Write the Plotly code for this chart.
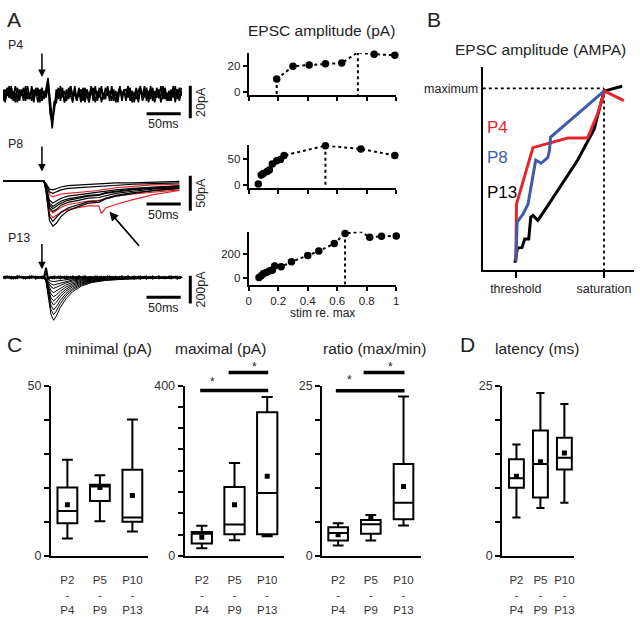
import plotly.graph_objects as go

W, H = 640, 617

# ======================= DATA =======================
# ---- Panel A: example sweeps (time in ms, current in pA) ----
SAMPLE_MS = 3  # spacing of the hand-read noisy sweeps
p4_sweep_a = [2, -3, 4, -2, 5, -4, 1, -5, 3, -1,
              4, -4, 2, -3, 5, -2, 3, -5, 1, 4,
              -3, 3, 10, -8, -21, -8, -2, 4, -4, 2,
              -5, 3, -2, 5, -3, 1, -4, 4, -2, 3,
              -5, 2, -1, 5, -4, 3, -2, 4, -5, 1,
              -3, 5, -2, 3, -4, 2, -5, 4, -1, 3,
              -4, 5, -2, 2, -5, 3, -3, 4, -1, 5,
              -4, 2, -3, 4, -5, 1, -2, 5, -3, 3,
              -4, 2, -1, 4, -5, 3, -2, 4]
p4_sweep_b = [-4, 3, -1, 5, -3, 2, -5, 4, -2, 3,
              -4, 1, 5, -3, 2, -5, 4, -1, 3, -4,
              2, -2, 6, -12, -17, -4, -5, 3, -1, 4,
              -5, 2, -3, 5, -1, 3, -4, 2, -5, 4,
              -2, 3, -3, 1, 4, -5, 2, -2, 5, -3,
              4, -1, 2, -4, 3, -5, 1, 4, -2, 3,
              -3, 5, -4, 2, -1, 4, -5, 3, -2, 1,
              4, -3, 5, -4, 2, -2, 3, -5, 1, 4,
              -3, 2, -4, 5, -1, 3, -4, 2]
p4_sweep_c = [3, -5, 1, -2, 4, -3, 5, -1, -4, 2,
              -2, 5, -3, 1, -4, 3, -1, 4, -5, 2,
              1, -1, 8, -5, -15, -10, 3, -3, 5, -2,
              2, -4, 4, -1, -5, 5, -3, 1, 3, -4,
              4, -1, -5, 3, -2, 5, -4, 1, 2, -3,
              -1, 3, -4, 5, -2, 1, -3, 5, -4, 2,
              3, -2, 4, -5, 1, -3, 2, 5, -4, -1,
              2, -5, 3, 1, -4, 4, -2, -1, 5, -3,
              1, -4, 3, -2, 5, -3, 4, -1]

p8_t = [0, 60, 63, 68, 73, 78, 85, 95, 110, 125, 140, 144, 150, 165, 190, 220, 258]
p8_black_sweeps = [
    [0, 0, -3, -11, -12, -10, -8, -6, -5, -4, -4, -3, -3, -2, -2, -1, 0],
    [0, 0, -4, -15, -17, -15, -12, -10, -9, -8, -7, -7, -6, -5, -4, -3, -2],
    [0, 0, -7, -27, -31, -28, -24, -21, -19, -17, -16, -15, -14, -12, -10, -8, -6],
    [0, 0, -8, -31, -36, -33, -28, -25, -22, -20, -19, -18, -16, -14, -11, -9, -7],
    [0, 0, -9, -34, -39, -36, -31, -27, -24, -21, -20, -19, -17, -15, -12, -10, -8],
    [0, 0, -10, -38, -43, -40, -34, -30, -27, -24, -23, -22, -20, -17, -14, -11, -9],
    [0, 0, -13, -50, -57, -52, -44, -38, -33, -29, -28, -27, -24, -20, -16, -13, -10],
    [0, 0, -15, -56, -64, -60, -50, -42, -36, -31, -30, -28, -25, -21, -17, -13, -10],
]
p8_red_sweeps = [
    [0, 0, -5, -19, -22, -20, -18, -17, -16, -14, -13, -12, -11, -9, -7, -5, -4],
    [0, 0, -10, -40, -45, -42, -37, -33, -30, -28, -27, -26, -24, -21, -18, -15, -12],
    [0, 0, -12, -46, -52, -49, -44, -40, -37, -35, -35, -46, -38, -33, -26, -19, -13],
]

p13_t = [0, 60, 63, 66, 70, 74, 78, 84, 92, 102, 115, 130, 150, 180, 220, 262]
p13_sweeps = [
    [0, 0, -3, -14, -26, -30, -27, -21, -15, -10, -6, -4, -2, -1, -1, 0],
    [0, 0, -6, -25, -47, -55, -50, -39, -28, -18, -11, -7, -4, -2, -1, 0],
    [0, 0, -8, -36, -68, -80, -72, -56, -40, -26, -16, -10, -6, -3, -2, 0],
    [0, 0, -11, -50, -94, -110, -99, -77, -55, -36, -22, -13, -8, -4, -2, 0],
    [0, 0, -14, -63, -119, -140, -126, -98, -70, -46, -28, -17, -10, -6, -3, 0],
    [0, 0, -17, -77, -145, -170, -153, -119, -85, -56, -34, -20, -12, -7, -3, 0],
    [0, 0, -20, -90, -170, -200, -180, -140, -100, -66, -40, -24, -14, -8, -4, 0],
    [0, 0, -24, -106, -200, -235, -212, -165, -118, -78, -47, -28, -16, -9, -5, 0],
    [0, 0, -27, -122, -230, -270, -243, -189, -135, -89, -54, -32, -19, -11, -5, 0],
    [0, 0, -31, -140, -264, -310, -279, -217, -155, -102, -62, -37, -22, -12, -6, 0],
]
p13_base_a = [4, -6, 8, -3, 6, -9, 2, -5, 7, -2,
              5, -8, 3, -6, 9, -1, 6, -4, 1, -7,
              5, 70, -10, 4, -6, 8, -3, 6, -9, 2,
              -5, 7, -2, 5, -8, 3, -6, 9, -1, 6,
              -4, 1, -7, 5, -3, 8, -6, 2, -9, 4,
              -2, 7, -5, 3, -8, 6, -1, 4, -7, 2,
              -6, 9, -3, 5, -8, 1, -4, 7, -2, 6,
              -9, 3, -5, 8, -1, 4, -7, 2, -6, 5,
              -3, 7, -8, 4, -2, 6, -5, 3]
p13_base_b = [-5, 7, -2, 6, -8, 3, -6, 9, -1, 5,
              -7, 2, -4, 8, -3, 6, -9, 4, -2, 7,
              -6, 40, -12, -3, 5, -7, 2, -4, 8, -1,
              6, -9, 3, -5, 7, -2, 4, -8, 1, -6,
              9, -3, 5, -7, 2, -4, 8, -1, 6, -9,
              3, -5, 7, -2, 4, -8, 1, -6, 9, -3,
              5, -7, 2, -4, 8, -1, 6, -9, 3, -5,
              7, -2, 4, -8, 1, -6, 9, -3, 5, -7,
              2, -4, 8, -1, 6, -9, 3, -5]

# ---- Panel A: input-output curves (stim re. max vs EPSC amplitude, pA) ----
io_p4_stim = [0.19, 0.30, 0.41, 0.52, 0.63, 0.74, 0.85, 0.99]
io_p4_amp = [10, 20, 21, 22, 22.6, 31, 29.5, 28.8]
io_p4_marks = [0, 5]
io_p8_stim = [0.065, 0.085, 0.10, 0.125, 0.14, 0.16, 0.19, 0.215, 0.24, 0.52, 0.76, 0.99]
io_p8_amp = [1, 19, 22, 26, 29, 41, 47.5, 50, 58, 77.5, 71, 58]
io_p8_marks = [9]
io_p13_stim = [0.07, 0.085, 0.10, 0.12, 0.143, 0.16, 0.176, 0.22, 0.29, 0.40, 0.475,
               0.58, 0.653, 0.76, 0.82, 0.90, 1.0]
io_p13_amp = [8, 21, 39, 47, 61, 66, 100, 94, 134, 184, 220, 281, 362, 376, 331, 339, 342]
io_p13_marks = [12]

# ---- Panel B: schematic (threshold=0, saturation=1; maximum=1) ----
b_p13_x = [-0.011, 0.018, 0.071, 0.101, 0.146, 0.169, 0.194, 0.25, 0.363, 0.70, 0.888, 1.0, 1.206]
b_p13_y = [0.041, 0.122, 0.125, 0.172, 0.172, 0.292, 0.301, 0.274, 0.355, 0.605, 0.776, 0.985, 1.012]
b_p4_x = [0.0, 0.007, 0.194, 0.588, 0.813, 0.925, 1.007, 1.225]
b_p4_y = [0.05, 0.363, 0.674, 0.727, 0.727, 0.857, 0.985, 0.933]
b_p8_x = [0.0, 0.015, 0.082, 0.138, 0.225, 0.288, 0.363, 0.382, 0.393, 1.0]
b_p8_y = [0.05, 0.264, 0.309, 0.363, 0.605, 0.588, 0.62, 0.66, 0.731, 0.985]

# ---- Panels C & D: box statistics per age group ----
groups = ["P2<br>-<br>P4", "P5<br>-<br>P9", "P10<br>-<br>P13"]
min_q1 = [9.6, 16.1, 10.0]
min_med = [13.2, 20.4, 11.3]
min_q3 = [20.1, 20.9, 25.3]
min_lo = [5.1, 10.2, 7.2]
min_hi = [28.2, 23.7, 40.0]
min_mean = [15.0, 20.1, 17.7]

max_q1 = [29, 51, 51]
max_med = [52, 74, 148]
max_q3 = [56, 162, 337]
max_lo = [18, 37, 46]
max_hi = [71, 218, 373]
max_mean = [44, 120, 187]

rat_q1 = [2.25, 3.26, 5.37]
rat_med = [3.36, 4.65, 7.8]
rat_q3 = [4.2, 5.27, 13.5]
rat_lo = [1.53, 2.25, 4.45]
rat_hi = [4.8, 6.0, 23.4]
rat_mean = [3.1, 5.74, 10.2]

lat_q1 = [10.0, 8.56, 12.67]
lat_med = [11.4, 13.5, 14.4]
lat_q3 = [14.2, 18.4, 17.35]
lat_lo = [5.64, 7.03, 7.8]
lat_hi = [16.35, 23.9, 22.3]
lat_mean = [11.7, 13.8, 15.1]

# significance comparisons (group index pairs)
max_sig = [(0, 2), (1, 2)]
rat_sig = [(0, 2), (1, 2)]

# ======================= LAYOUT HELPERS =======================
RED = "#e4252b"
BLUE = "#3f5ca9"
TXT = "#222222"
FONT = "Liberation Sans"


def xdom(a, b):
    return [a / W, b / W]


def ydom(top, bottom):
    return [1 - bottom / H, 1 - top / H]


def lin_range(p_a, p_b, p0, p1, v0, v1):
    s = (v1 - v0) / (p1 - p0)
    return [v0 + (p_a - p0) * s, v0 + (p_b - p0) * s]


def ids(n):
    return ("x" if n == 1 else f"x{n}"), ("y" if n == 1 else f"y{n}")


layout = dict(width=W, height=H, margin=dict(l=0, r=0, t=0, b=0),
              paper_bgcolor="white", plot_bgcolor="rgba(0,0,0,0)",
              showlegend=False, font=dict(family=FONT, color=TXT),
              annotations=[], shapes=[])


def set_axes(n, xd, xr, yd, yr, xkw=None, ykw=None):
    xa, ya = ids(n)
    base = dict(showgrid=False, zeroline=False, fixedrange=True)
    xo = dict(base, domain=xd, range=xr, anchor=ya)
    xo.update(xkw or {})
    yo = dict(base, domain=yd, range=yr, anchor=xa)
    yo.update(ykw or {})
    layout["xaxis" if n == 1 else f"xaxis{n}"] = xo
    layout["yaxis" if n == 1 else f"yaxis{n}"] = yo


def P(px, py):
    return px / W, 1 - py / H


def text(s, px, py, size, xanchor="center", color=TXT, angle=0, family=FONT):
    x, y = P(px, py)
    layout["annotations"].append(dict(text=s, x=x, y=y, xref="paper", yref="paper",
                                      xanchor=xanchor, yanchor="middle", showarrow=False,
                                      textangle=angle,
                                      font=dict(size=size, color=color, family=family)))


def arrow(tip, tail, width=1.5, size=1.0):
    x, y = P(*tip)
    layout["annotations"].append(dict(text="", x=x, y=y, xref="paper", yref="paper",
                                      ax=tail[0] - tip[0], ay=tail[1] - tip[1],
                                      showarrow=True, arrowhead=2, arrowsize=size,
                                      arrowwidth=width, arrowcolor="black"))


fig = go.Figure()


def line(n, x, y, color="black", width=1.2, dash=None, mode="lines", msize=7, clip=True):
    xa, ya = ids(n)
    fig.add_trace(go.Scatter(x=x, y=y, xaxis=xa, yaxis=ya, mode=mode,
                             line=dict(color=color, width=width, dash=dash),
                             marker=dict(color=color, size=msize),
                             cliponaxis=clip, hoverinfo="skip"))


HIDDEN = dict(visible=False)

# ======================= PANEL A: sweeps =======================
MS_PER_PX = 1 / 0.69
tr_x = [0, 200 * MS_PER_PX]
set_axes(1, xdom(0, 200), tr_x, ydom(55, 135), lin_range(135, 55, 89.3, 56.0, 0, 20), HIDDEN, HIDDEN)
set_axes(2, xdom(0, 200), tr_x, ydom(140, 235), lin_range(235, 140, 178.5, 142.8, 0, 50), HIDDEN, HIDDEN)
set_axes(3, xdom(0, 200), tr_x, ydom(245, 330), lin_range(330, 245, 276.7, 248.4, 0, 200), HIDDEN, HIDDEN)

for sw in (p4_sweep_a, p4_sweep_b, p4_sweep_c):
    line(1, [SAMPLE_MS * i for i in range(len(sw))], sw, width=1.6)

for sw in p8_red_sweeps:
    line(2, p8_t, sw, color=RED, width=1.2)
for sw in p8_black_sweeps:
    line(2, p8_t, sw, width=1.2)

for sw in (p13_base_a, p13_base_b):
    line(3, [SAMPLE_MS * i for i in range(len(sw))], sw, width=1.8)
for sw in p13_sweeps:
    line(3, p13_t, sw, width=1.0)

# scale bars (50 ms horizontal, amplitude vertical)
for n, amp, hy, vtop in ((1, 20, -12, 5.2), (2, 50, -32.5, 8.1), (3, 200, -143, 12)):
    xa, ya = ids(n)
    layout["shapes"].append(dict(type="line", xref=xa, yref=ya, x0=210, x1=260, y0=hy, y1=hy,
                                 line=dict(color="black", width=3)))
    layout["shapes"].append(dict(type="line", xref=xa, yref=ya, x0=274, x1=274, y0=vtop,
                                 y1=vtop - amp, line=dict(color="black", width=3)))

text("A", 2, 13, 21, xanchor="left")
text("P4", 3, 39, 12.5, xanchor="left")
text("P8", 3, 140, 12.5, xanchor="left")
text("P13", 3, 236, 12.5, xanchor="left")
for py in (120, 213, 308):
    text("50ms", 161.7, py, 12.5)
text("20pA", 200, 97, 12.5, angle=-90)
text("50pA", 200, 190, 12.5, angle=-90)
text("200pA", 200, 289, 12.5, angle=-90)
arrow((39.3, 71.5), (39.3, 46.5))
arrow((39.3, 168.3), (39.3, 141.7))
arrow((39.3, 268.3), (39.3, 241.7))
arrow((107.5, 209.5), (138.3, 245), width=1.8)

# ======================= PANEL A: IO curves =======================
io_xkw = dict(showline=True, linewidth=2, linecolor="black", ticks="outside", ticklen=4,
              tickwidth=1.5, tickcolor="black", tickvals=[0, 0.2, 0.4, 0.6, 0.8, 1.0],
              ticktext=["0", "0.2", "0.4", "0.6", "0.8", "1"], tickfont=dict(size=11.5, color=TXT))
io_ykw = dict(showline=True, linewidth=2, linecolor="black", ticks="outside", ticklen=4,
              tickwidth=1.5, tickcolor="black", tickfont=dict(size=11.5, color=TXT))
io_specs = [
    (4, (47, 90), lin_range(90, 47, 86.7, 60.7, 0, 20), [0, 20], io_p4_stim, io_p4_amp, io_p4_marks, False),
    (5, (141.7, 185), lin_range(185, 141.7, 181.7, 156.0, 0, 50), [0, 50], io_p8_stim, io_p8_amp, io_p8_marks, False),
    (6, (230, 284.3), lin_range(284.3, 230, 277.7, 252.3, 0, 200), [0, 200], io_p13_stim, io_p13_amp, io_p13_marks, True),
]
for n, (ty, by), yr, yt, sx, sy, marks, labels in io_specs:
    set_axes(n, xdom(248, 397), [0, 1], ydom(ty, by), yr,
             dict(io_xkw, showticklabels=labels), dict(io_ykw, tickvals=yt))
    for i in marks:
        line(n, [sx[i], sx[i]], [sy[i], yr[0]], width=2, dash="dot")
    line(n, sx, sy, width=2, dash="dot", mode="lines+markers", msize=7.5, clip=False)

text("EPSC amplitude (pA)", 322, 24, 15.5)
text("stim re. max", 323, 313, 12)

# ======================= PANEL B =======================
bxr = lin_range(484.3, 637, 517.7, 606.7, 0, 1)
byr = lin_range(269.3, 61.7, 269.3, 83.3, 0, 1)
set_axes(7, xdom(484.3, 637), bxr, ydom(61.7, 269.3), byr,
         dict(showline=True, linewidth=2, linecolor="black", ticks="outside", ticklen=6,
              tickwidth=2, tickcolor="black", tickvals=[0, 1], ticktext=["threshold", "saturation"],
              tickfont=dict(size=12.5, color=TXT)),
         dict(showline=True, linewidth=2, linecolor="black", ticks="",
              tickvals=[1], ticktext=["maximum"], tickfont=dict(size=12.5, color=TXT)))
line(7, [bxr[0], 1], [1, 1], width=1.8, dash="dot")
line(7, [1, 1], [1, 0], width=1.8, dash="dot")
line(7, b_p13_x, b_p13_y, width=3)
line(7, b_p4_x, b_p4_y, color=RED, width=3)
line(7, b_p8_x, b_p8_y, color=BLUE, width=3)
text("B", 426, 13, 21, xanchor="left")
text("EPSC amplitude (AMPA)", 543, 43, 15.5)
text("P4", 487, 123, 17, xanchor="left", color=RED)
text("P8", 487, 154, 17, xanchor="left", color=BLUE)
text("P13", 487, 190, 17, xanchor="left", color="black")

# ======================= PANELS C & D =======================
box_ykw = dict(showline=True, linewidth=2, linecolor="black", ticks="outside", ticklen=5,
               tickwidth=1.5, tickcolor="black", tickfont=dict(size=12.5, color="#333333"))
box_xkw = dict(showline=True, linewidth=2, linecolor="black", ticks="", tickvals=[0, 1, 2],
               ticktext=groups, ticklabelstandoff=12, tickfont=dict(size=11.5, color="#333333"))
box_specs = [
    (8, (48.3, 146.7), (65, 97.8), [0, 50], 10, min_q1, min_med, min_q3, min_lo, min_hi, min_mean, 0.61),
    (9, (183.3, 283.3), (200.7, 233.7), [0, 400], 50, max_q1, max_med, max_q3, max_lo, max_hi, max_mean, 0.62),
    (10, (322.3, 421.7), (338.3, 371.3), [0, 25], 5, rat_q1, rat_med, rat_q3, rat_lo, rat_hi, rat_mean, 0.6),
    (11, (504, 576.7), (518.3, 542.5), [0, 25], 5, lat_q1, lat_med, lat_q3, lat_lo, lat_hi, lat_mean, 0.62),
]
for n, (xl, xrt), (c0, c1), yr, step, q1, med, q3, lo, hi, mean, bw in box_specs:
    tv = [k * step for k in range(int(yr[1] / step) + 1)]
    tt = [str(v) if v in (yr[0], yr[1]) else "" for v in tv]
    set_axes(n, xdom(xl, xrt), lin_range(xl, xrt, c0, c1, 0, 1), ydom(387.3, 561.7), yr,
             dict(box_xkw), dict(box_ykw, tickvals=tv, ticktext=tt))
    xa, ya = ids(n)
    fig.add_trace(go.Box(x=[0, 1, 2], q1=q1, median=med, q3=q3, lowerfence=lo, upperfence=hi,
                         xaxis=xa, yaxis=ya, width=bw, whiskerwidth=0.55, boxpoints=False,
                         line=dict(color="black", width=2), fillcolor="white", hoverinfo="skip"))
    fig.add_trace(go.Scatter(x=[0, 1, 2], y=mean, xaxis=xa, yaxis=ya, mode="markers",
                             marker=dict(symbol="square", size=5, color="black"), hoverinfo="skip"))

# significance bars
for n, pairs, ys, starts in ((9, max_sig, (392.3, 374.0), (-0.05, 0.82)),
                             (10, rat_sig, (392.7, 374.0), (-0.07, 0.78))):
    xa, _ = ids(n)
    for (g0, g1), py, s in zip(pairs, ys, starts):
        yv = 1 - py / H
        layout["shapes"].append(dict(type="line", xref=xa, yref="paper", x0=s, x1=g1 + 0.03,
                                     y0=yv, y1=yv, line=dict(color="black", width=3.5)))
for px, py in ((211.7, 384), (254, 368), (350, 382), (391, 368)):
    text("*", px, py, 12)

text("C", 2, 345, 21, xanchor="left")
text("D", 459, 345, 21, xanchor="left")
text("minimal (pA)", 106.7, 349.3, 15.5)
text("maximal (pA)", 220, 349.3, 15.5)
text("ratio (max/min)", 375, 349.3, 15.5)
text("latency (ms)", 539.3, 349.3, 15.5)

fig.update_layout(**layout)
fig.write_html("out.html", config={"displayModeBar": False},
               post_script="document.body.style.margin='0';document.body.style.overflow='hidden';")
